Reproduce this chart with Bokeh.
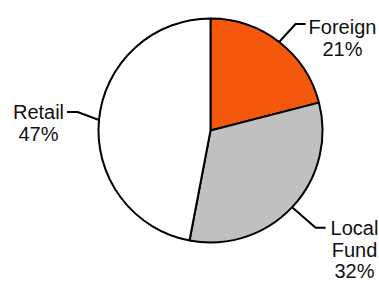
import math
from bokeh.plotting import figure
from bokeh.models import Range1d, ColumnDataSource
from bokeh.core.properties import value
from bokeh.embed import file_html
from bokeh.resources import INLINE

# data
categories = ["Foreign", "Local Fund", "Retail"]
shares = [21, 32, 47]
colors = ["#F4580C", "#C0C0C0", "#FFFFFF"]

W, H = 379, 282
p = figure(width=W, height=H, output_backend="svg", toolbar_location=None,
           x_range=Range1d(0, W), y_range=Range1d(0, H),
           min_border=0, min_border_left=0, min_border_right=0,
           min_border_top=0, min_border_bottom=0)
p.axis.visible = False
p.grid.visible = False
p.outline_line_color = None
p.background_fill_color = "white"

def sy(y):  # screen y (from top) to data y
    return H - y

cx, cy, r = 210, sy(130), 112
total = sum(shares)
starts, ends, mids = [], [], []
cum = 0.0
for s in shares:
    a0 = math.pi / 2 - 2 * math.pi * cum / total
    cum += s
    a1 = math.pi / 2 - 2 * math.pi * cum / total
    starts.append(a0); ends.append(a1); mids.append((a0 + a1) / 2)

src = ColumnDataSource(dict(start=starts, end=ends, color=colors))
p.wedge(x=cx, y=cy, radius=r, start_angle="start", end_angle="end",
        direction="clock", fill_color="color", line_color="black",
        line_width=2, source=src)

# leader line geometry (elbow dx, dy in screen px; horizontal length)
elbows = [(16.4, -18), (23.5, 20.5), (-21.5, -8)]
hlen = [10, 10, -10.5]
label_cx = [342, 354, 38]
base_off = [3, 0.5, 0.5]
for i, cat in enumerate(categories):
    a = mids[i]
    x0 = cx + r * math.cos(a)
    y0 = cy + r * math.sin(a)
    ex, ey = x0 + elbows[i][0], y0 - elbows[i][1]
    fx = ex + hlen[i]
    p.line([x0, ex, fx], [y0, ey, ey], line_color="black", line_width=2)
    lines = cat.split(" ") + [f"{shares[i]}%"]
    base = sy(ey) + base_off[i]
    for j, t in enumerate(lines):
        p.text(x=[label_cx[i]], y=[sy(base + 21.5 * j)], text=[t],
               text_align="center", text_baseline="alphabetic",
               text_font=value("Liberation Sans"), text_font_size="20px",
               text_color="#111111")

open("out.html", "w").write(file_html(p, INLINE))
